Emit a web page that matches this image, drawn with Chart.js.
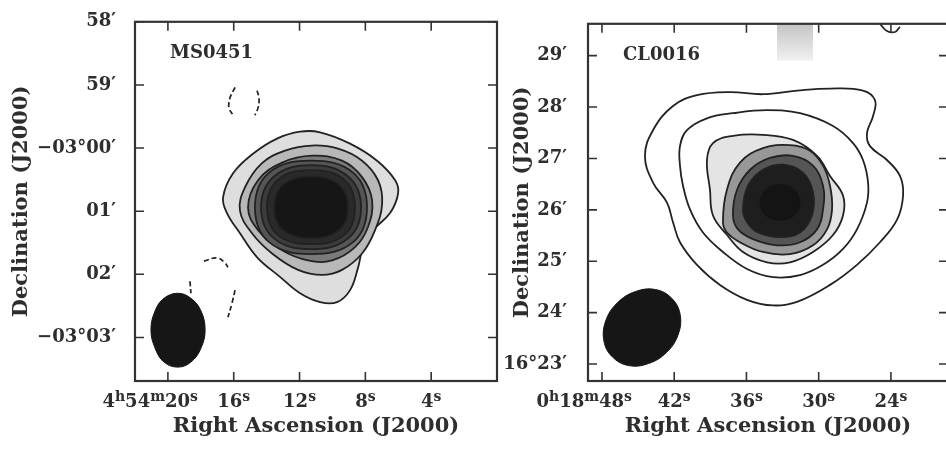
<!DOCTYPE html>
<html>
<head>
<meta charset="utf-8">
<script src="https://cdn.jsdelivr.net/npm/chart.js@4.4.1/dist/chart.umd.min.js"></script>
<style>
  html, body { margin: 0; padding: 0; background: #fff; overflow: hidden; }
  #wrap { position: relative; width: 946px; height: 450px; overflow: hidden; }
  #leftChart { position: absolute; left: 0; top: 0; width: 500px; height: 450px; }
  #rightChart { position: absolute; left: 500px; top: 0; width: 450px; height: 450px; }
</style>
</head>
<body>
<div id="wrap">
  <canvas id="leftChart" width="500" height="450"></canvas>
  <canvas id="rightChart" width="450" height="450"></canvas>
</div>
<script>
// Axis ticks (RA seconds, Dec arcmin); ^x = superscript
const raTicksL = [20, 16, 12, 8, 4];
const raLabelsL = ['4^h54^m20^s', '16^s', '12^s', '8^s', '4^s'];
const decTicksL = [2, 1, 0, -1, -2, -3];
const decLabelsL = ['58′', '59′', '−03°00′', '01′', '02′', '−03°03′'];

const raTicksR = [48, 42, 36, 30, 24];
const raLabelsR = ['0^h18^m48^s', '42^s', '36^s', '30^s', '24^s'];
const decTicksR = [29, 28, 27, 26, 25, 24, 23];
const decLabelsR = ['29′', '28′', '27′', '26′', '25′', '24′', '16°23′'];

// MS0451 contours, [RA s, Dec offset arcmin from -03°00']
const ms0451C1 = [[16.65,-0.78],[16.04,-0.40],[14.83,-0.09],[13.37,0.15],[11.97,0.26],[10.75,0.25],[8.93,0.07],[7.29,-0.20],[6.19,-0.51],[6.01,-0.72],[6.50,-1.03],[7.53,-1.30],[8.14,-1.57],[8.44,-1.89],[8.93,-2.25],[9.72,-2.44],[10.75,-2.44],[11.97,-2.30],[13.19,-2.04],[14.58,-1.73],[15.62,-1.35],[16.41,-1.03]];
const ms0451C2 = [[15.62,-0.99],[15.31,-0.62],[14.28,-0.24],[12.88,-0.04],[11.24,0.04],[9.66,-0.01],[8.20,-0.20],[7.23,-0.51],[6.98,-0.88],[7.41,-1.30],[8.20,-1.67],[9.42,-1.93],[10.63,-2.01],[12.09,-1.93],[13.67,-1.67],[14.89,-1.35]];
const ms0451C3 = [[15.13,-0.94],[14.52,-0.51],[13.06,-0.23],[11.24,-0.12],[9.42,-0.20],[8.20,-0.46],[7.59,-0.83],[7.84,-1.25],[8.63,-1.57],[10.02,-1.78],[11.48,-1.78],[13.06,-1.62],[14.52,-1.30]];
const ms0451C4 = [[7.90,-0.94],[8.75,-0.39],[11.30,-0.20],[13.85,-0.39],[14.71,-0.94],[13.85,-1.49],[11.30,-1.68],[8.75,-1.49]];
const ms0451C5 = [[8.26,-0.94],[9.05,-0.45],[11.30,-0.27],[13.55,-0.45],[14.34,-0.94],[13.55,-1.43],[11.30,-1.60],[9.05,-1.43]];
const ms0451C6 = [[8.63,-0.94],[9.29,-0.50],[11.30,-0.35],[13.31,-0.50],[13.98,-0.94],[13.31,-1.38],[11.30,-1.52],[9.29,-1.38]];
const ms0451C7 = [[9.05,-0.94],[9.60,-0.58],[11.30,-0.45],[13.00,-0.58],[13.55,-0.94],[13.00,-1.30],[11.30,-1.43],[9.60,-1.30]];
const ms0451NegA = [[15.92,0.96],[16.22,0.80],[16.29,0.64],[16.04,0.52]];
const ms0451NegB = [[14.58,0.91],[14.46,0.78],[14.52,0.64],[14.71,0.52]];
const ms0451NegC = [[17.81,-1.79],[17.02,-1.74],[16.53,-1.82],[16.35,-1.89]];
const ms0451NegD = [[15.92,-2.25],[16.10,-2.45],[16.35,-2.68]];
const ms0451NegE = [[18.66,-2.11],[18.60,-2.30]];
const ms0451Beam = [[17.74,-2.88],[17.99,-2.58],[18.60,-2.38],[19.39,-2.30],[20.24,-2.38],[20.78,-2.58],[21.03,-2.88],[20.78,-3.17],[20.24,-3.39],[19.39,-3.47],[18.60,-3.39],[17.99,-3.17]];

// CL0016 contours, [RA s, Dec arcmin past 16°]
const cl0016C1 = [[44.43,27.05],[43.76,27.55],[42.10,28.02],[40.11,28.23],[37.37,28.29],[34.63,28.25],[31.80,28.32],[29.06,28.36],[26.32,28.32],[25.32,28.13],[25.49,27.82],[25.99,27.49],[25.74,27.24],[24.33,26.97],[23.25,26.66],[22.99,26.28],[23.49,25.81],[24.91,25.37],[26.82,24.93],[29.06,24.54],[31.80,24.21],[33.79,24.14],[35.95,24.25],[38.20,24.54],[40.11,24.93],[41.52,25.37],[42.10,25.76],[42.60,26.14],[43.76,26.53]];
const cl0016C2 = [[41.52,27.24],[40.94,27.55],[39.28,27.78],[37.12,27.88],[34.29,27.94],[31.55,27.88],[28.81,27.63],[27.15,27.30],[26.32,26.97],[25.90,26.53],[25.99,26.14],[26.82,25.62],[27.98,25.24],[29.64,24.93],[31.55,24.73],[33.79,24.69],[35.95,24.85],[37.95,25.18],[39.61,25.56],[40.69,26.01],[41.27,26.47],[41.52,26.86]];
const cl0016C3 = [[39.28,26.97],[38.78,27.30],[37.12,27.44],[34.63,27.46],[32.13,27.36],[30.14,27.05],[29.06,26.66],[27.98,26.28],[27.98,25.89],[28.81,25.51],[30.47,25.18],[32.38,24.98],[34.29,24.98],[36.29,25.18],[37.61,25.51],[38.78,25.89],[39.03,26.39]];
const cl0016C4 = [[37.95,25.76],[37.62,26.39],[36.54,26.92],[34.63,27.20],[32.38,27.26],[30.72,27.15],[29.64,26.86],[29.06,26.47],[28.89,26.01],[29.31,25.62],[30.47,25.31],[32.38,25.14],[34.63,25.18],[36.54,25.37],[37.62,25.56]];
const cl0016C5 = [[37.12,25.89],[36.78,26.39],[35.70,26.78],[34.04,27.01],[32.13,27.05],[30.47,26.86],[29.64,26.47],[29.64,26.01],[30.14,25.62],[31.55,25.37],[33.46,25.31],[35.46,25.43],[36.70,25.62]];
const cl0016C6 = [[36.29,26.01],[35.87,26.47],[34.63,26.78],[32.96,26.88],[31.30,26.72],[30.47,26.34],[30.56,25.89],[31.55,25.56],[33.21,25.47],[35.04,25.56],[35.95,25.76]];
const cl0016C7 = [[31.55,26.14],[32.05,26.39],[33.21,26.49],[34.38,26.39],[34.87,26.14],[34.38,25.89],[33.21,25.80],[32.05,25.89]];
const cl0016Arc = [[24.91,29.62],[24.33,29.48],[23.66,29.46],[23.25,29.56]];
const cl0016Patch = [[33.46,29.62],[30.47,29.62],[30.47,28.90],[33.46,28.90]];
const cl0016Beam = [[42.21,24.28],[41.51,23.97],[41.66,23.58],[42.62,23.23],[44.13,23.01],[45.79,22.97],[47.14,23.14],[47.84,23.45],[47.69,23.84],[46.73,24.19],[45.22,24.41],[43.56,24.45]];

Chart.defaults.font.family = '"DejaVu Serif", serif';
Chart.defaults.font.weight = 'bold';
Chart.defaults.color = '#2e2e2e';

const ink = '#222';
const textInk = '#2e2e2e';
const clear = 'rgba(0,0,0,0)';

// closed smooth loop: pad with wrap-around points and hide the two padding segments
function loop(arr, line, fill, width, order) {
    const n = arr.length;
    const seq = [arr[n - 1], ...arr, arr[0], arr[1]];
    const last = seq.length - 1;
    return {
        data: seq.map(([x, y]) => ({ x, y })),
        borderColor: line, borderWidth: width,
        backgroundColor: fill || clear, fill: fill ? 'shape' : false,
        tension: 0.4, pointRadius: 0, order: order,
        segment: {
            borderColor: s => (s.p0DataIndex === 0 || s.p1DataIndex === last) ? clear : undefined
        }
    };
}

function contour(arr, fill, order) {
    return loop(arr, ink, fill, 1.8, order);
}

function open(arr, dash) {
    return {
        data: arr.map(([x, y]) => ({ x, y })), borderColor: ink, borderWidth: 1.7,
        borderDash: dash, fill: false, tension: 0.4, pointRadius: 0, order: 0
    };
}

function patch(arr) {
    return {
        data: arr.concat([arr[0]]).map(([x, y]) => ({ x, y })),
        borderWidth: 0, borderColor: clear, fill: 'shape', tension: 0, pointRadius: 0, order: 20,
        backgroundColor: c => {
            const a = c.chart.chartArea;
            if (!a) return '#ddd';
            const g = c.chart.ctx.createLinearGradient(0, a.top, 0, a.top + 38);
            g.addColorStop(0, '#c4c4c4');
            g.addColorStop(1, '#f2f2f2');
            return g;
        }
    };
}

function drawRich(ctx, text, x, y, align) {
    const parts = [];
    for (let i = 0; i < text.length; i++) {
        if (text[i] === '^') { parts.push({ t: text[i + 1], sup: true }); i++; }
        else parts.push({ t: text[i], sup: false });
    }
    const big = 'bold 18px "DejaVu Serif"', small = 'bold 14px "DejaVu Serif"';
    let w = 0;
    parts.forEach(p => { ctx.font = p.sup ? small : big; p.w = ctx.measureText(p.t).width; w += p.w; });
    let cx = align === 'right' ? x - w : x - w / 2;
    ctx.textAlign = 'left';
    parts.forEach(p => {
        ctx.font = p.sup ? small : big;
        ctx.fillText(p.t, cx, p.sup ? y - 6 : y);
        cx += p.w;
    });
}

// frame, inward ticks, RA labels and source name
const framePlugin = {
    id: 'frame',
    afterDatasetsDraw(chart, args, opts) {
        const { ctx, chartArea: a, scales: { x, y } } = chart;
        ctx.save();
        ctx.strokeStyle = '#333';
        ctx.lineWidth = 2.2;
        ctx.strokeRect(a.left, a.top, a.right - a.left, a.bottom - a.top);
        ctx.lineWidth = 1.6;
        ctx.beginPath();
        x.ticks.forEach(t => {
            const px = x.getPixelForValue(t.value);
            ctx.moveTo(px, a.bottom); ctx.lineTo(px, a.bottom - 9);
            ctx.moveTo(px, a.top); ctx.lineTo(px, a.top + 9);
        });
        y.ticks.forEach(t => {
            const py = y.getPixelForValue(t.value);
            ctx.moveTo(a.left, py); ctx.lineTo(a.left + 9, py);
            ctx.moveTo(a.right, py); ctx.lineTo(a.right - 9, py);
        });
        ctx.stroke();

        ctx.fillStyle = textInk;
        ctx.textBaseline = 'alphabetic';
        x.ticks.forEach((t, i) => {
            const px = x.getPixelForValue(t.value);
            if (i === 0) drawRich(ctx, opts.labels[i], px + 30, a.bottom + 26, 'right');
            else drawRich(ctx, opts.labels[i], px, a.bottom + 26, 'center');
        });
        ctx.textAlign = 'left';
        ctx.font = 'bold 18px "DejaVu Serif"';
        ctx.fillText(opts.name, a.left + 35, a.top + 36);
        ctx.restore();
    }
};

function makeChart(id, c) {
    return new Chart(document.getElementById(id), {
        type: 'line',
        data: { datasets: c.datasets },
        options: {
            responsive: false,
            animation: false,
            events: [],
            layout: { padding: { top: 21, right: c.padRight, left: 0, bottom: 0 } },
            plugins: {
                legend: { display: false },
                tooltip: { enabled: false },
                frame: { labels: c.raLabels, name: c.name }
            },
            scales: {
                x: {
                    type: 'linear', reverse: true, min: c.xMin, max: c.xMax,
                    grid: { display: false }, border: { display: false },
                    ticks: { display: false },
                    afterBuildTicks: s => { s.ticks = c.raTicks.map(v => ({ value: v })); },
                    afterFit: s => { s.height = 69; },
                    title: {
                        display: true, text: 'Right Ascension (J2000)', color: textInk,
                        font: { size: 21, weight: 'bold' }, padding: { top: 0, bottom: 11 }
                    }
                },
                y: {
                    type: 'linear', min: c.yMin, max: c.yMax,
                    grid: { display: false }, border: { display: false },
                    ticks: {
                        autoSkip: false, padding: c.tickPad, color: textInk,
                        font: { size: 18, weight: 'bold' },
                        callback: v => c.decLabels[c.decTicks.indexOf(v)]
                    },
                    afterBuildTicks: s => { s.ticks = c.decTicks.map(v => ({ value: v })); },
                    afterFit: s => { s.width = c.yWidth; },
                    title: {
                        display: true, text: 'Declination (J2000)', color: textInk,
                        font: { size: 21, weight: 'bold' }, padding: { top: c.titlePad, bottom: 0 }
                    }
                }
            }
        },
        plugins: [framePlugin]
    });
}

makeChart('leftChart', {
    name: 'MS0451',
    xMin: 0, xMax: 22, yMin: -3.69, yMax: 2,
    raTicks: raTicksL, raLabels: raLabelsL, decTicks: decTicksL, decLabels: decLabelsL,
    yWidth: 135, padRight: 3, tickPad: 11, titlePad: 9,
    datasets: [
        contour(ms0451C1, '#dedede', 10),
        contour(ms0451C2, '#b8b8b8', 9),
        contour(ms0451C3, '#7a7a7a', 8),
        contour(ms0451C4, '#555', 7),
        contour(ms0451C5, '#3c3c3c', 6),
        contour(ms0451C6, '#2a2a2a', 5),
        contour(ms0451C7, '#161616', 4),
        open(ms0451NegA, [5, 3]), open(ms0451NegB, [5, 3]), open(ms0451NegC, [5, 3]),
        open(ms0451NegD, [5, 3]), open(ms0451NegE, [5, 3]),
        loop(ms0451Beam, '#161616', '#161616', 1, 0)
    ]
});

makeChart('rightChart', {
    name: 'CL0016',
    xMin: 19.26, xMax: 49.16, yMin: 22.67, yMax: 29.62,
    raTicks: raTicksR, raLabels: raLabelsR, decTicks: decTicksR, decLabels: decLabelsR,
    yWidth: 88, padRight: 2, tickPad: 13, titlePad: 10,
    datasets: [
        patch(cl0016Patch),
        contour(cl0016C1, null, 10),
        contour(cl0016C2, null, 9),
        contour(cl0016C3, '#e4e4e4', 8),
        contour(cl0016C4, '#989898', 7),
        contour(cl0016C5, '#555', 6),
        contour(cl0016C6, '#1e1e1e', 5),
        loop(cl0016C7, '#141414', '#141414', 1, 4),
        open(cl0016Arc, []),
        loop(cl0016Beam, '#161616', '#161616', 1, 0)
    ]
});
</script>
</body>
</html>
